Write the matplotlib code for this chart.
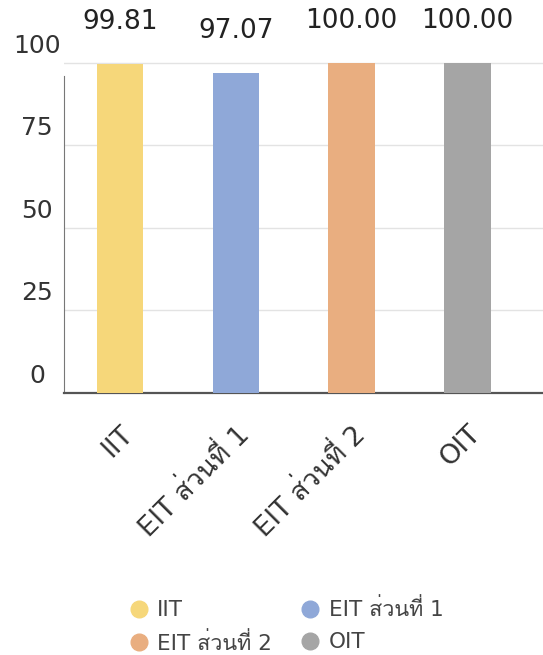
import numpy as np
import matplotlib
matplotlib.use("Agg")
import matplotlib.pyplot as plt
from matplotlib import font_manager
from matplotlib.ft2font import FT2Font
from matplotlib.lines import Line2D
import matplotlib.transforms as mtransforms

# DATA --------------------------------------------------------
categories = ["IIT", "EIT ส่วนที่ 1", "EIT ส่วนที่ 2", "OIT"]
values = [99.81, 97.07, 100.00, 100.00]
value_labels = ["99.81", "97.07", "100.00", "100.00"]
colors = ["#F6D77A", "#8FA8D8", "#E9AE80", "#A5A5A5"]
yticks = [0, 25, 50, 75, 100]

# find some installed font that has Thai glyphs (ส = U+0E2A)
thai_family = None
for f in font_manager.fontManager.ttflist:
    try:
        if FT2Font(f.fname).get_char_index(0x0E2A):
            thai_family = f.name
            break
    except Exception:
        pass
fams = ["DejaVu Sans"]
if thai_family:
    fams.append(thai_family)
plt.rcParams["font.family"] = fams

fig = plt.figure(figsize=(5.43, 6.55), dpi=100)
ax = fig.add_axes([0.118, 0.40, 0.882, 0.509])

x = np.arange(len(categories))
ax.bar(x, values, width=0.4, color=colors, zorder=3)
ax.set_xlim(-0.48, 3.65)
ax.set_ylim(0, 101)

# grid lines
for t in yticks[1:]:
    ax.axhline(t, color="#E3E3E3", lw=1, zorder=1)

for s in ["top", "right"]:
    ax.spines[s].set_visible(False)
ax.spines["bottom"].set_color("#555555")
ax.spines["bottom"].set_linewidth(1.6)
ax.spines["left"].set_color("#777777")
ax.spines["left"].set_bounds(0, 96)

# y tick labels, centred and shifted up a bit
ax.set_yticks(yticks)
ax.set_yticklabels([])
ax.tick_params(axis="y", length=0)
off = mtransforms.ScaledTranslation(-27 / 100, 17 / 100, fig.dpi_scale_trans)
trans = mtransforms.blended_transform_factory(ax.transAxes, ax.transData) + off
for t in yticks:
    ax.text(0, t, str(t), transform=trans, ha="center", va="center",
            fontsize=18, color="#333333")

# x tick labels
ax.set_xticks(x)
ax.set_xticklabels(categories, rotation=45, ha="right", rotation_mode="anchor",
                   fontsize=19.5, color="#333333")
ax.tick_params(axis="x", length=0, pad=20)

# value labels
for xi, v, lab in zip(x, values, value_labels):
    ax.annotate(lab, (xi, v), xytext=(0, 42), textcoords="offset pixels",
                ha="center", va="center", fontsize=19, color="#222222",
                annotation_clip=False)

# legend (row order: IIT, EIT 1 / EIT 2, OIT)
order = [0, 2, 1, 3]
handles = [Line2D([], [], marker="o", ls="", markersize=12, color=colors[i]) for i in order]
labels = [categories[i] for i in order]
leg = fig.legend(handles, labels, ncol=2, loc="center",
                 bbox_to_anchor=(0.526, 0.044), frameon=False, fontsize=15.5,
                 handletextpad=0.35, columnspacing=1.3, labelspacing=0.55,
                 handlelength=1.0)
for txt in leg.get_texts():
    txt.set_color("#444444")

fig.savefig("out.png", dpi=100)
